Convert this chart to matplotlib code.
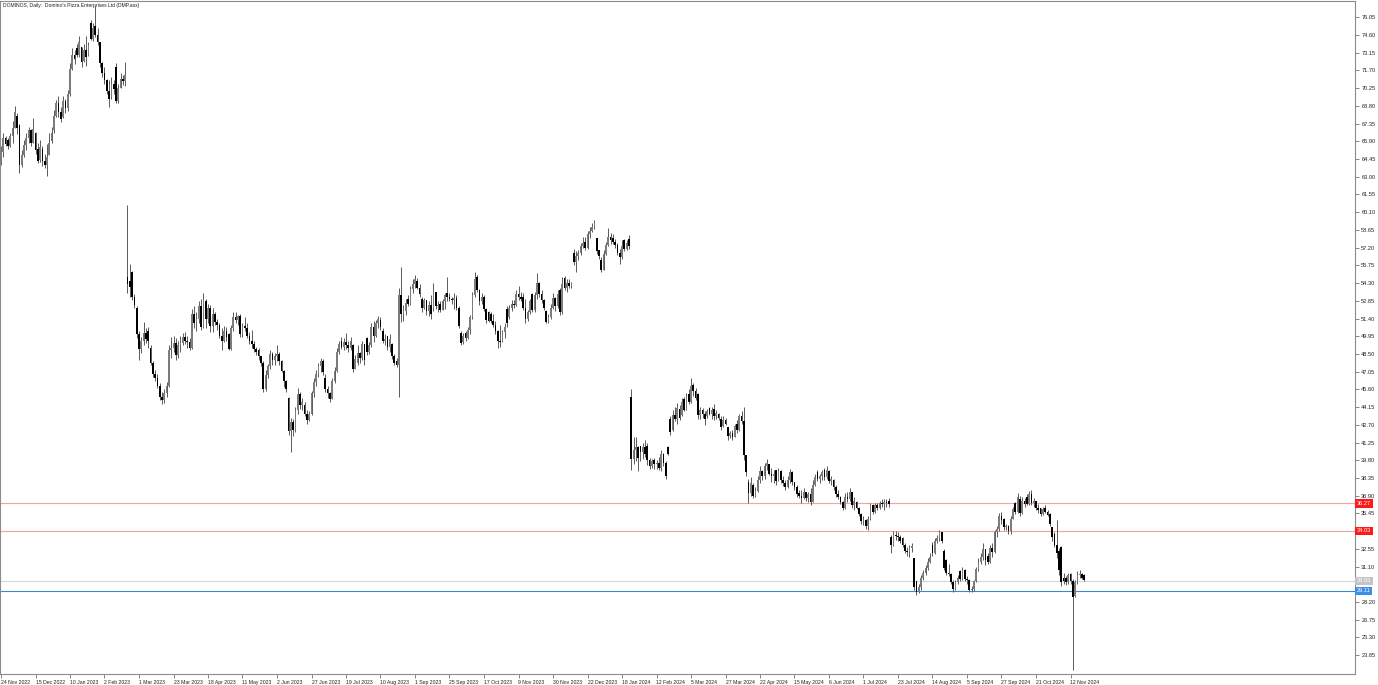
"""
Daily candlestick chart of DOMINOS (DMP.asx) in MetaTrader style.
Output: out.png (1378x685)
"""

import matplotlib
matplotlib.use("Agg")
import matplotlib.pyplot as plt
import matplotlib.transforms as mtransforms
import numpy as np

TITLE = "DOMINOS, Daily:  Domino's Pizza Enterprises Ltd (DMP.asx)"

# one entry per daily bar
OPEN = [
    64.2, 65.0, 66.2, 66.0, 65.5, 66.3, 67.0, 68.0, 67.2, 64.0, 64.8, 65.6, 66.2, 66.8, 65.8, 66.6,
    65.3, 64.4, 65.3, 64.3, 64.0, 64.8, 65.9, 66.8, 68.0, 69.0, 68.3, 67.9, 69.2, 68.6, 69.8, 71.8,
    73.0, 73.5, 73.0, 73.6, 72.5, 73.4, 73.0, 75.6, 74.3, 75.3, 74.6, 74.0, 72.3, 71.5, 70.9, 70.0,
    69.5, 70.6, 72.0, 69.2, 70.3, 71.0, 70.8,
    54.8, 54.5, 55.2, 53.2, 52.3, 50.1, 48.9, 49.6, 50.2, 50.4, 49.0, 47.8, 46.9, 46.5, 45.9, 45.0,
    44.7, 45.3, 45.9, 48.8, 49.0, 49.4, 48.4, 49.2, 49.4, 49.9, 49.6, 49.5, 49.0, 51.8, 51.0, 51.4,
    52.4, 50.7, 52.8, 51.4, 52.3, 50.8, 51.8, 51.1, 50.9, 50.0, 49.6, 50.4, 50.1, 48.9, 50.6, 51.5,
    51.3, 51.6, 50.1, 50.8, 50.6, 50.0, 49.6, 49.3, 48.9, 48.8, 48.3, 47.8, 45.6, 46.8, 47.5, 48.5,
    48.0, 48.3, 48.5, 47.9, 47.1, 46.3, 44.9, 42.2, 42.9, 42.3, 43.9, 45.2, 44.3, 44.3, 43.6, 43.1,
    43.6, 45.3, 46.2, 46.9, 47.5, 47.9, 46.5, 45.6, 45.3, 44.8, 46.3, 47.1, 48.7, 49.6, 49.1, 49.5,
    49.2, 49.0, 49.2, 47.3, 47.8, 48.6, 48.2, 49.3, 49.8, 48.7, 49.2, 50.7, 50.0, 51.0, 51.3, 50.4,
    49.6, 50.0, 49.1, 49.3, 48.3, 47.9, 47.6, 53.3, 51.8, 52.0, 53.0, 52.6, 53.8, 54.2, 54.5, 53.9,
    53.0, 52.3, 52.9, 52.0, 52.5, 52.3, 53.6, 52.4, 52.6, 52.1, 52.8, 53.5, 53.2, 53.0, 52.9, 53.1,
    52.3, 50.2, 49.5, 50.2, 49.8, 50.5, 51.5, 53.3, 54.8, 53.7, 52.8, 53.2, 52.2, 51.9, 51.8, 51.2,
    50.9, 50.4, 49.6, 49.6, 50.3, 52.2, 51.5, 52.3, 52.6, 52.5, 53.4, 53.2, 53.2, 52.3, 51.4, 51.9,
    53.4, 52.1, 53.3, 54.3, 53.4, 52.9, 52.0, 51.1, 51.5, 52.3, 53.1, 52.4, 53.7, 51.9, 54.7, 53.9,
    54.3, 54.1, 56.8, 56.0, 56.5, 56.8, 57.3, 57.7, 57.2, 58.3, 58.6, 58.9, 58.0, 57.0, 56.2, 55.4,
    56.7, 57.4, 58.1, 58.0, 57.7, 57.4, 56.8, 56.4, 57.8, 57.1, 57.9,
    45.0, 39.9, 40.6, 40.9, 41.0, 40.5, 40.9, 41.0, 39.8, 39.3, 39.8, 39.5, 39.6, 39.2, 40.3, 39.6,
    40.9, 43.2, 42.3, 43.5, 43.2, 44.0, 43.5, 44.8, 43.9, 45.2, 44.6, 46.0, 45.5, 45.2, 43.5, 43.9,
    43.6, 43.4, 44.1, 43.6, 44.0, 43.4, 43.6, 43.2, 42.6, 43.1, 42.5, 41.8, 42.0, 41.7, 42.8, 42.3,
    43.4, 43.0, 40.2, 38.0, 37.1, 37.8, 36.9, 37.3, 38.2, 38.9, 38.5, 39.3, 39.5, 38.7, 38.5, 39.0,
    38.1, 38.9, 38.2, 37.9, 37.6, 38.2, 38.8, 38.0, 37.6, 37.1, 36.9, 36.7, 37.2, 36.7, 37.0, 36.4,
    37.8, 38.8, 38.3, 38.5, 39.0, 38.4, 38.9, 38.1, 38.2, 37.6, 37.0, 36.8, 36.4, 35.9, 36.8, 36.6,
    37.2, 36.1, 36.4, 35.9, 35.4, 34.8, 34.9, 34.4, 35.0, 36.1, 35.6, 36.1, 35.9, 36.3, 36.2, 36.4,
    36.5, 33.5, 32.9, 33.7, 33.6, 33.5, 33.4, 32.9, 32.4, 32.3, 32.6, 31.8, 29.9, 29.0, 29.4, 30.2,
    30.6, 31.0, 31.5, 32.9, 32.2, 33.2, 33.4, 33.9, 32.4, 31.6, 30.6, 30.5, 29.8, 29.3, 29.8, 30.7,
    30.1, 30.8, 30.1, 30.0, 29.2, 29.3, 29.9, 30.9, 31.5, 31.9, 32.5, 32.0, 31.5, 32.6, 32.3, 33.9,
    34.2, 35.2, 35.0, 34.3, 34.4, 34.0, 35.0, 36.3, 35.6, 36.6, 35.5, 36.5, 36.8, 36.2, 37.0, 36.3,
    36.5, 35.9, 35.9, 35.4, 35.9, 35.6, 35.4, 34.3, 33.8, 32.9, 32.4, 32.7, 30.2, 30.2, 29.8, 30.5,
    29.9, 28.7, 29.8, 30.4, 30.5, 30.4,
]
HIGH = [
    65.5, 66.6, 66.3, 66.2, 66.6, 67.6, 68.8, 68.2, 67.3, 65.2, 66.0, 66.6, 67.1, 66.9, 67.8, 66.7,
    65.8, 66.0, 65.5, 64.9, 65.7, 66.6, 67.1, 68.5, 69.3, 69.6, 68.7, 69.6, 69.4, 70.1, 72.3, 73.5,
    73.4, 73.9, 74.5, 73.6, 73.9, 74.5, 74.0, 75.8, 75.6, 77.0, 75.2, 74.0, 72.4, 72.0, 71.0, 70.9,
    71.2, 70.9, 72.3, 70.6, 71.5, 71.3, 72.4,
    60.7, 55.9, 55.3, 53.4, 52.4, 50.4, 49.9, 51.1, 50.6, 50.7, 49.2, 47.9, 47.2, 46.9, 46.1, 45.4,
    45.6, 46.2, 49.2, 49.9, 50.0, 49.8, 49.6, 50.0, 50.2, 50.3, 50.0, 49.8, 52.2, 52.4, 51.9, 52.8,
    53.0, 53.5, 53.0, 52.6, 52.5, 52.3, 51.9, 51.4, 51.0, 50.6, 50.8, 50.7, 50.2, 50.9, 51.9, 51.9,
    51.7, 51.8, 51.0, 51.5, 51.0, 50.3, 50.5, 49.6, 49.1, 49.0, 48.3, 47.9, 47.2, 47.7, 48.8, 48.7,
    48.6, 49.2, 48.7, 48.0, 47.2, 46.4, 45.0, 43.3, 43.2, 44.2, 45.7, 45.4, 44.9, 44.6, 43.9, 43.8,
    45.5, 46.5, 47.2, 47.8, 48.2, 48.1, 46.9, 45.9, 45.4, 46.5, 47.4, 49.0, 49.6, 49.9, 49.8, 50.2,
    49.6, 49.9, 49.3, 48.4, 49.2, 48.7, 49.6, 49.3, 49.9, 49.5, 51.0, 51.2, 51.3, 51.6, 51.5, 50.6,
    50.1, 50.0, 50.1, 49.4, 48.5, 48.2, 53.9, 55.6, 52.5, 53.0, 53.3, 54.1, 54.6, 55.0, 54.7, 54.2,
    53.2, 53.1, 52.9, 52.8, 53.3, 54.3, 53.6, 52.8, 52.8, 53.0, 53.5, 54.8, 53.5, 53.2, 53.5, 53.3,
    52.4, 50.4, 50.2, 50.4, 50.7, 51.7, 53.6, 55.2, 55.0, 53.8, 53.5, 53.3, 52.3, 52.0, 51.9, 51.8,
    51.2, 50.5, 50.9, 50.5, 51.0, 52.4, 52.5, 52.9, 52.9, 53.7, 54.1, 53.6, 53.5, 53.0, 52.1, 53.0,
    53.5, 53.6, 55.1, 54.4, 53.7, 53.0, 52.1, 51.8, 52.6, 53.5, 53.2, 53.7, 53.9, 54.8, 54.9, 54.6,
    54.6, 54.4, 57.1, 56.9, 57.0, 57.6, 58.1, 58.1, 58.6, 58.9, 59.2, 59.5, 58.0, 57.0, 56.4, 57.0,
    57.7, 58.8, 58.4, 58.3, 57.9, 57.6, 57.1, 57.8, 57.9, 57.8, 58.2,
    45.6, 41.7, 41.7, 41.0, 41.0, 41.2, 41.5, 41.2, 40.0, 39.9, 40.0, 39.8, 40.1, 40.6, 40.4, 39.7,
    41.0, 43.4, 43.9, 44.2, 44.5, 44.3, 44.9, 45.0, 45.3, 45.6, 46.5, 46.1, 45.7, 45.3, 44.2, 44.1,
    43.8, 44.0, 44.2, 44.2, 44.4, 43.9, 43.7, 43.4, 43.4, 43.3, 42.5, 42.2, 42.3, 42.8, 43.1, 43.6,
    43.8, 44.2, 40.2, 38.3, 38.4, 37.9, 37.6, 38.5, 39.3, 39.0, 39.6, 39.9, 39.5, 39.2, 39.0, 39.0,
    39.2, 39.0, 38.5, 38.2, 38.5, 39.1, 38.9, 38.0, 37.8, 37.4, 37.4, 37.5, 37.2, 37.2, 37.5, 38.2,
    38.7, 39.0, 38.7, 39.0, 39.2, 39.3, 39.0, 38.5, 38.3, 37.8, 37.4, 36.9, 36.5, 37.1, 37.2, 37.5,
    37.2, 36.8, 36.5, 36.0, 35.5, 35.2, 35.0, 35.2, 36.3, 36.2, 36.3, 36.3, 36.5, 36.6, 36.6, 36.6,
    36.7, 33.7, 34.0, 34.0, 33.9, 33.7, 33.5, 33.0, 32.7, 32.9, 33.0, 31.8, 29.9, 29.7, 30.4, 30.8,
    31.2, 31.8, 32.2, 33.1, 33.4, 33.7, 34.1, 33.9, 32.5, 31.7, 31.3, 30.6, 30.0, 30.0, 30.4, 30.8,
    31.1, 30.9, 30.3, 30.1, 29.5, 30.0, 31.1, 31.8, 32.2, 33.0, 32.5, 32.2, 32.9, 33.0, 34.1, 34.4,
    35.5, 35.6, 35.1, 34.6, 34.5, 35.2, 36.0, 36.4, 37.1, 36.9, 36.8, 36.7, 37.0, 37.3, 37.4, 36.7,
    36.5, 36.2, 35.9, 36.0, 36.1, 35.7, 35.5, 34.3, 33.9, 34.9, 32.6, 32.8, 30.6, 30.3, 30.6, 30.6,
    30.1, 30.0, 30.7, 30.8, 30.6, 30.5,
]
LOW = [
    64.0, 64.6, 65.5, 65.3, 65.4, 65.8, 67.0, 66.5, 63.3, 63.8, 64.6, 65.2, 65.8, 65.5, 65.8, 64.9,
    64.1, 64.2, 63.9, 63.7, 63.1, 64.8, 65.8, 66.6, 67.9, 67.9, 67.5, 67.8, 68.2, 68.4, 69.6, 71.7,
    72.2, 72.8, 72.8, 72.0, 72.4, 72.1, 72.9, 74.2, 74.1, 74.4, 73.8, 72.0, 71.2, 70.6, 69.8, 68.7,
    69.4, 69.8, 69.0, 69.0, 70.3, 70.5, 70.4,
    53.5, 53.2, 52.9, 52.3, 49.8, 48.0, 48.6, 49.2, 49.4, 49.0, 47.6, 46.6, 46.3, 45.7, 44.7, 44.4,
    44.5, 45.0, 45.8, 48.2, 48.7, 48.0, 48.2, 48.7, 49.2, 49.3, 49.0, 48.8, 48.9, 50.6, 50.4, 51.0,
    50.5, 50.6, 50.6, 51.0, 50.3, 50.3, 50.9, 50.5, 49.8, 48.8, 49.5, 49.6, 48.8, 48.8, 50.4, 51.0,
    50.9, 49.9, 49.9, 50.4, 49.8, 49.3, 49.0, 48.7, 48.4, 48.0, 47.5, 45.4, 45.5, 46.5, 47.3, 47.6,
    47.6, 47.9, 47.6, 47.0, 45.8, 45.4, 41.9, 40.5, 41.8, 42.1, 43.6, 44.0, 43.9, 43.4, 42.8, 43.0,
    43.5, 45.0, 45.9, 46.6, 47.0, 46.8, 45.4, 44.9, 44.6, 44.8, 46.1, 47.0, 48.5, 48.9, 48.8, 48.9,
    48.7, 48.8, 47.0, 47.3, 47.6, 47.8, 48.0, 47.6, 48.4, 48.5, 49.1, 49.5, 49.9, 50.6, 50.5, 49.4,
    49.2, 48.8, 48.7, 48.1, 47.6, 47.4, 45.0, 51.1, 51.2, 51.7, 52.4, 52.5, 53.5, 53.9, 53.8, 53.2,
    51.9, 52.2, 51.7, 51.6, 51.4, 52.0, 52.2, 51.9, 51.9, 52.1, 52.2, 52.8, 52.8, 52.6, 52.2, 52.1,
    50.6, 49.2, 49.3, 49.6, 49.7, 50.1, 51.4, 53.2, 53.6, 52.5, 52.6, 52.0, 51.0, 51.1, 51.0, 50.7,
    50.1, 49.0, 49.1, 49.5, 49.8, 50.7, 51.4, 52.0, 52.3, 52.4, 52.9, 52.8, 52.1, 51.0, 51.2, 51.8,
    51.9, 51.9, 53.0, 53.2, 52.7, 52.1, 51.0, 51.0, 51.4, 52.2, 52.0, 52.3, 51.7, 51.8, 53.7, 53.6,
    53.9, 53.9, 55.8, 55.2, 56.2, 56.6, 57.2, 57.0, 57.1, 58.0, 58.5, 58.7, 56.7, 56.3, 55.2, 55.4,
    56.6, 57.3, 57.5, 57.5, 57.2, 56.6, 55.9, 56.3, 56.9, 57.0, 57.1,
    39.0, 39.5, 39.7, 38.9, 39.7, 39.9, 40.1, 39.4, 39.1, 39.2, 39.1, 39.1, 39.0, 38.9, 39.3, 38.3,
    40.2, 41.9, 42.2, 43.0, 42.8, 43.1, 43.4, 43.8, 43.9, 44.4, 44.5, 45.1, 44.7, 43.2, 43.2, 43.3,
    42.7, 43.3, 43.5, 43.2, 43.1, 43.2, 43.1, 42.3, 42.5, 42.7, 41.5, 41.6, 41.5, 41.7, 42.0, 42.2,
    42.8, 39.8, 38.5, 36.3, 36.9, 36.7, 36.8, 37.2, 37.9, 38.2, 38.3, 39.0, 38.6, 38.0, 37.9, 37.8,
    38.1, 37.9, 37.7, 37.4, 37.5, 37.9, 37.8, 37.4, 36.8, 36.7, 36.3, 36.6, 36.5, 36.4, 36.1, 36.4,
    37.7, 38.1, 37.9, 38.2, 38.2, 38.3, 37.9, 37.8, 37.4, 36.8, 36.6, 36.2, 35.7, 35.8, 36.4, 36.5,
    35.9, 35.7, 35.8, 35.2, 34.6, 34.5, 34.2, 34.1, 34.9, 35.4, 35.5, 35.7, 35.8, 36.0, 35.7, 36.0,
    36.0, 32.2, 32.8, 33.3, 33.2, 33.0, 32.7, 32.2, 32.0, 31.9, 32.3, 29.2, 28.8, 28.9, 29.2, 30.0,
    30.4, 30.8, 31.4, 32.0, 32.1, 33.0, 33.2, 33.0, 30.8, 30.4, 30.3, 29.7, 29.05, 29.2, 29.7, 29.9,
    30.0, 29.9, 29.7, 29.05, 29.05, 29.1, 29.8, 30.7, 31.3, 31.6, 31.2, 31.3, 31.4, 31.9, 32.2, 33.5,
    34.0, 34.6, 34.1, 34.1, 33.8, 33.8, 35.0, 35.4, 35.5, 35.2, 35.4, 36.0, 36.1, 36.1, 36.1, 36.0,
    35.7, 35.5, 35.2, 35.3, 35.5, 35.2, 34.4, 33.2, 32.7, 31.8, 30.4, 29.5, 29.7, 29.6, 29.7, 29.7,
    22.65, 28.6, 29.7, 30.2, 30.1, 29.9,
]
CLOSE = [
    65.2, 66.2, 65.7, 65.5, 66.3, 67.0, 68.3, 67.0, 64.0, 64.8, 65.6, 66.2, 66.8, 65.8, 66.9, 65.2,
    64.3, 65.4, 64.3, 64.0, 64.6, 65.8, 66.6, 68.0, 69.0, 68.3, 67.7, 69.2, 68.6, 69.8, 71.8, 73.0,
    72.6, 73.0, 74.0, 72.4, 73.4, 72.8, 73.8, 74.3, 75.2, 74.6, 74.0, 72.3, 71.5, 70.9, 70.0, 69.4,
    70.6, 70.2, 69.2, 70.3, 71.0, 70.8, 71.3,
    54.2, 54.0, 53.2, 52.5, 50.1, 48.9, 49.6, 50.2, 49.7, 49.6, 47.8, 46.9, 46.5, 45.9, 45.0, 44.7,
    45.3, 45.9, 48.8, 49.0, 49.4, 48.4, 49.2, 49.4, 49.9, 49.6, 49.5, 49.0, 51.8, 51.0, 51.4, 52.4,
    50.7, 53.0, 51.4, 52.3, 50.8, 51.8, 51.1, 50.9, 50.0, 49.6, 50.4, 49.9, 48.9, 50.6, 51.5, 51.3,
    51.6, 50.1, 50.8, 50.6, 50.0, 49.6, 49.3, 48.9, 48.7, 48.3, 47.8, 45.6, 46.8, 47.5, 48.5, 48.0,
    48.3, 48.5, 47.9, 47.1, 46.3, 45.6, 42.2, 42.9, 42.3, 43.9, 45.2, 44.3, 44.6, 43.6, 43.1, 43.6,
    45.3, 46.2, 46.9, 47.5, 47.9, 47.0, 45.6, 45.3, 44.8, 46.3, 47.1, 48.7, 49.3, 49.1, 49.5, 49.2,
    49.0, 49.6, 47.3, 48.1, 48.6, 48.2, 49.3, 48.0, 48.7, 49.2, 50.7, 50.0, 51.0, 51.4, 50.7, 49.6,
    49.7, 49.1, 49.7, 48.3, 47.8, 47.6, 53.3, 51.8, 52.0, 52.7, 52.6, 53.8, 54.2, 54.6, 53.9, 53.4,
    52.3, 52.9, 52.0, 52.5, 51.8, 53.6, 52.4, 52.5, 52.1, 52.8, 53.3, 53.2, 53.0, 52.9, 53.1, 52.3,
    50.8, 49.4, 50.0, 49.8, 50.5, 51.5, 53.3, 54.6, 53.7, 52.8, 53.2, 52.2, 51.3, 51.2, 51.2, 50.9,
    50.4, 49.6, 49.5, 50.3, 50.7, 51.0, 52.3, 52.6, 52.5, 53.4, 53.2, 53.0, 52.3, 51.4, 51.9, 52.8,
    52.1, 53.3, 54.3, 53.4, 52.9, 52.3, 51.1, 51.5, 52.3, 53.1, 52.4, 53.4, 51.9, 54.2, 53.9, 54.3,
    54.1, 54.2, 56.0, 56.5, 56.8, 57.3, 57.6, 57.2, 58.3, 58.6, 58.9, 59.2, 56.9, 56.5, 55.4, 56.7,
    57.4, 58.1, 57.8, 57.7, 57.4, 56.8, 56.4, 57.3, 57.1, 57.6, 57.3,
    39.9, 40.6, 40.9, 40.0, 40.5, 40.9, 40.3, 39.8, 39.3, 39.7, 39.5, 39.6, 39.2, 40.3, 39.6, 38.5,
    40.3, 42.1, 43.5, 43.2, 44.1, 43.3, 44.6, 43.9, 45.0, 44.6, 45.9, 45.5, 44.9, 43.5, 43.9, 43.6,
    43.2, 43.8, 43.6, 43.9, 43.4, 43.7, 43.3, 42.5, 43.1, 42.8, 41.8, 42.0, 41.7, 42.6, 42.3, 43.4,
    43.0, 40.2, 38.8, 37.1, 37.9, 36.9, 37.3, 38.2, 38.9, 38.5, 39.3, 39.6, 38.7, 38.5, 38.7, 38.1,
    38.9, 38.2, 37.9, 37.6, 38.2, 38.8, 38.0, 37.6, 37.0, 36.9, 36.7, 37.2, 36.7, 37.0, 36.4, 37.8,
    38.4, 38.3, 38.5, 38.8, 38.4, 39.0, 38.1, 38.3, 37.6, 37.0, 36.8, 36.4, 35.9, 36.8, 36.6, 37.2,
    36.1, 36.5, 35.9, 35.4, 34.8, 34.9, 34.4, 35.0, 36.1, 35.6, 36.1, 35.9, 36.3, 36.2, 36.4, 36.3,
    36.2, 32.9, 33.7, 33.6, 33.5, 33.2, 32.9, 32.4, 32.3, 32.6, 32.8, 29.4, 29.0, 29.4, 30.2, 30.6,
    31.0, 31.5, 31.9, 32.2, 33.2, 33.4, 33.9, 33.2, 31.0, 30.6, 30.5, 29.8, 29.3, 29.8, 30.2, 30.1,
    30.8, 30.1, 30.0, 29.2, 29.3, 29.9, 30.9, 31.5, 31.9, 32.5, 31.6, 31.5, 32.6, 32.3, 33.9, 34.2,
    35.2, 34.9, 34.3, 34.4, 34.0, 35.0, 35.8, 35.6, 36.8, 35.5, 36.5, 36.2, 36.2, 37.0, 36.3, 36.5,
    35.9, 35.7, 35.4, 35.8, 35.6, 35.3, 34.6, 33.5, 32.9, 32.2, 30.8, 29.8, 29.9, 29.8, 30.4, 29.9,
    28.6, 29.8, 30.4, 30.5, 30.2, 30.0,
]

DATE_LABELS = [
    "24 Nov 2022", "15 Dec 2022", "10 Jan 2023", "2 Feb 2023", "1 Mar 2023", "23 Mar 2023",
    "18 Apr 2023", "11 May 2023", "2 Jun 2023", "27 Jun 2023", "19 Jul 2023", "10 Aug 2023",
    "1 Sep 2023", "25 Sep 2023", "17 Oct 2023", "9 Nov 2023", "30 Nov 2023", "22 Dec 2023",
    "18 Jan 2024", "12 Feb 2024", "5 Mar 2024", "27 Mar 2024", "22 Apr 2024", "15 May 2024",
    "6 Jun 2024", "1 Jul 2024", "23 Jul 2024", "14 Aug 2024", "5 Sep 2024", "27 Sep 2024",
    "21 Oct 2024", "12 Nov 2024",
]
BARS_PER_LABEL = 15

PRICE_TICKS = [
    23.85, 25.30, 26.75, 28.20, 29.65, 31.10, 32.55, 34.00, 35.45, 36.90, 38.35, 39.80, 41.25,
    42.70, 44.15, 45.60, 47.05, 48.50, 49.95, 51.40, 52.85, 54.30, 55.75, 57.20, 58.65, 60.10,
    61.55, 63.00, 64.45, 65.90, 67.35, 68.80, 70.25, 71.70, 73.15, 74.60, 76.05,
]
HIDDEN_TICKS = [29.65, 34.00]  # covered by the level tags in the reference

# horizontal price levels with their axis tags
LEVELS = [36.27, 34.03, 29.93, 29.11]
LEVEL_LINE_COLORS = ["#f2a3a3", "#f2a3a3", "#d6d6d6", "#3b86d8"]
LEVEL_TAG_COLORS = ["#ff1a1a", "#ff1a1a", "#c4c4c4", "#3b8fe6"]

W, H = 1378, 685
PLOT_RIGHT = 1355  # px
PLOT_TOP, PLOT_BOTTOM = 1, 674  # px


def main() -> None:
    plt.rcParams["font.family"] = ["Liberation Sans", "DejaVu Sans"]
    o = np.array(OPEN)
    h = np.array(HIGH)
    lo = np.array(LOW)
    c = np.array(CLOSE)
    h = np.maximum(h, np.maximum(o, c))
    lo = np.minimum(lo, np.minimum(o, c))
    x = np.arange(len(c))

    fig = plt.figure(figsize=(W / 100, H / 100), dpi=100)
    ax = fig.add_axes([0, (H - PLOT_BOTTOM) / H, PLOT_RIGHT / W, (PLOT_BOTTOM - PLOT_TOP) / H])

    # wicks then bodies
    ax.vlines(x, lo, h, color="#5a5a5a", linewidth=0.7, zorder=2)
    up = c >= o
    bottom = np.minimum(o, c)
    height = np.maximum(np.abs(c - o), 0.08)
    ax.bar(x[up], height[up], bottom=bottom[up], width=0.78, color="#7c7c7c", linewidth=0, zorder=3)
    ax.bar(x[~up], height[~up], bottom=bottom[~up], width=0.78, color="#000000", linewidth=0, zorder=3)

    for lvl, col in zip(LEVELS, LEVEL_LINE_COLORS):
        ax.axhline(lvl, color=col, linewidth=0.8, zorder=1)

    # 2.3 px per bar, first bar 1 px from the left edge
    ax.set_xlim(-1 / 2.3, (PLOT_RIGHT - 1) / 2.3)
    ax.set_ylim(76.05 - (PLOT_BOTTOM - 17.3) / 12.22, 76.05 + (17.3 - PLOT_TOP) / 12.22)

    ax.set_xticks(x[::BARS_PER_LABEL][: len(DATE_LABELS)])
    ax.set_xticklabels(DATE_LABELS, ha="left", fontsize=3.7, color="#202020")
    ax.tick_params(axis="x", direction="out", length=3, width=0.6, color="#707070", pad=1.5)

    ax.yaxis.tick_right()
    ax.set_yticks(PRICE_TICKS)
    ax.set_yticklabels(["" if v in HIDDEN_TICKS else f"{v:.2f}" for v in PRICE_TICKS],
                       fontsize=4.1, color="#202020")
    ax.tick_params(axis="y", direction="out", length=3, width=0.6, color="#707070", pad=1.5)

    for side in ax.spines.values():
        side.set_color("#8c8c8c")
        side.set_linewidth(0.8)

    tag = mtransforms.blended_transform_factory(ax.transAxes, ax.transData)
    for lvl, col in zip(LEVELS, LEVEL_TAG_COLORS):
        ax.text(1.0 + 2 / PLOT_RIGHT, lvl, f"{lvl:.2f}", transform=tag, ha="left", va="center",
                fontsize=4.1, color="white", clip_on=False, zorder=5,
                bbox=dict(boxstyle="square,pad=0.3", fc=col, ec="none"))

    fig.text(3 / W, 1 - 6 / H, TITLE, ha="left", va="center", fontsize=3.6, color="#202020")

    fig.savefig("out.png", dpi=100)
    plt.close(fig)


if __name__ == "__main__":
    main()
